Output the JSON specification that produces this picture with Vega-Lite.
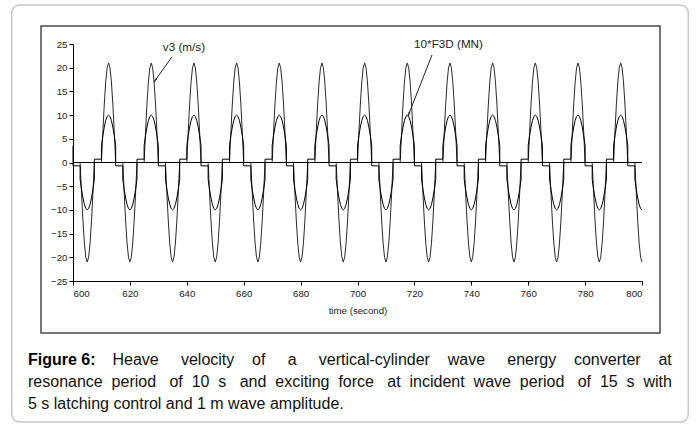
{
"$schema":"https://vega.github.io/schema/vega-lite/v6.json",
"width":569,"height":237,
"autosize":{"type":"none"},
"padding":{"left":73,"top":44,"right":54,"bottom":144},
"background":"white",
"config":{"view":{"stroke":null},"font":"Liberation Sans","axis":{"labelOverlap":false,"labelBound":false}},
"title":{
"text":"Figure 6:",
"subtitle":[
"\u200b\u00a0\u00a0\u00a0\u00a0\u00a0\u00a0\u00a0\u00a0\u00a0\u00a0\u00a0\u00a0\u00a0\u00a0\u00a0\u00a0\u00a0\u00a0\u00a0Heave\u00a0\u00a0\u00a0\u00a0\u00a0velocity\u00a0\u00a0\u00a0\u00a0of\u00a0\u00a0\u00a0\u00a0\u00a0a\u00a0\u00a0\u00a0\u00a0\u00a0vertical-cylinder\u00a0\u00a0\u00a0\u00a0wave\u00a0\u00a0\u00a0\u00a0\u00a0energy\u00a0\u00a0\u00a0\u00a0converter\u00a0\u00a0\u00a0\u00a0at",
"resonance\u00a0\u00a0period\u00a0\u00a0\u00a0of\u00a0\u00a010\u00a0\u00a0s\u00a0\u00a0\u00a0and\u00a0\u00a0exciting\u00a0\u00a0force\u00a0\u00a0\u00a0at\u00a0\u00a0incident\u00a0\u00a0wave\u00a0\u00a0period\u00a0\u00a0\u00a0of\u00a0\u00a015\u00a0\u00a0s\u00a0\u00a0with",
"5 s latching control and 1 m wave amplitude."],
"orient":"bottom","anchor":"start","frame":"group","dx":-45,"offset":-71,
"font":"Liberation Sans","fontSize":16,"fontWeight":"bold","color":"#000",
"subtitleFont":"Liberation Sans","subtitleFontSize":16,"subtitleFontWeight":"normal","subtitleColor":"#111","subtitleLineHeight":22,"subtitlePadding":-16
},
"datasets":{
"frame":[{}],
"notes":[{"label":"v3 (m/s)","t":639.0,"y":24.4},{"label":"10*F3D (MN)","t":732.0,"y":24.9}],
"arrows":[{"label":"v3","t":634.8,"y":22.3,"t2":628.5,"y2":17.0},{"label":"f","t":726.2,"y":22.7,"t2":717.75,"y2":9.8}],
"heads":[{"label":"v3","t":629.0,"y":17.4},{"label":"f","t":718.07,"y":10.3}],
"wave":[
{"t":600,"v":0,"f":3.55},{"t":600,"v":0,"f":-0.7},
{"t":602.5,"v":0,"f":-0.7},{"t":602.5,"v":0,"f":-3.55},{"t":603,"v":-6.49,"f":-5.68},{"t":603.5,"v":-12.34,"f":-7.49},{"t":604,"v":-16.99,"f":-8.85},{"t":604.5,"v":-19.97,"f":-9.71},{"t":605,"v":-21,"f":-10},{"t":605.5,"v":-19.97,"f":-9.71},{"t":606,"v":-16.99,"f":-8.85},{"t":606.5,"v":-12.34,"f":-7.49},{"t":607,"v":-6.49,"f":-5.68},{"t":607.5,"v":0,"f":-3.55},{"t":607.5,"v":0,"f":0.7},
{"t":610,"v":0,"f":0.7},{"t":610,"v":0,"f":3.55},{"t":610.5,"v":6.49,"f":5.68},{"t":611,"v":12.34,"f":7.49},{"t":611.5,"v":16.99,"f":8.85},{"t":612,"v":19.97,"f":9.71},{"t":612.5,"v":21,"f":10},{"t":613,"v":19.97,"f":9.71},{"t":613.5,"v":16.99,"f":8.85},{"t":614,"v":12.34,"f":7.49},{"t":614.5,"v":6.49,"f":5.68},{"t":615,"v":0,"f":3.55},{"t":615,"v":0,"f":-0.7},
{"t":617.5,"v":0,"f":-0.7},{"t":617.5,"v":0,"f":-3.55},{"t":618,"v":-6.49,"f":-5.68},{"t":618.5,"v":-12.34,"f":-7.49},{"t":619,"v":-16.99,"f":-8.85},{"t":619.5,"v":-19.97,"f":-9.71},{"t":620,"v":-21,"f":-10},{"t":620.5,"v":-19.97,"f":-9.71},{"t":621,"v":-16.99,"f":-8.85},{"t":621.5,"v":-12.34,"f":-7.49},{"t":622,"v":-6.49,"f":-5.68},{"t":622.5,"v":0,"f":-3.55},{"t":622.5,"v":0,"f":0.7},
{"t":625,"v":0,"f":0.7},{"t":625,"v":0,"f":3.55},{"t":625.5,"v":6.49,"f":5.68},{"t":626,"v":12.34,"f":7.49},{"t":626.5,"v":16.99,"f":8.85},{"t":627,"v":19.97,"f":9.71},{"t":627.5,"v":21,"f":10},{"t":628,"v":19.97,"f":9.71},{"t":628.5,"v":16.99,"f":8.85},{"t":629,"v":12.34,"f":7.49},{"t":629.5,"v":6.49,"f":5.68},{"t":630,"v":0,"f":3.55},{"t":630,"v":0,"f":-0.7},
{"t":632.5,"v":0,"f":-0.7},{"t":632.5,"v":0,"f":-3.55},{"t":633,"v":-6.49,"f":-5.68},{"t":633.5,"v":-12.34,"f":-7.49},{"t":634,"v":-16.99,"f":-8.85},{"t":634.5,"v":-19.97,"f":-9.71},{"t":635,"v":-21,"f":-10},{"t":635.5,"v":-19.97,"f":-9.71},{"t":636,"v":-16.99,"f":-8.85},{"t":636.5,"v":-12.34,"f":-7.49},{"t":637,"v":-6.49,"f":-5.68},{"t":637.5,"v":0,"f":-3.55},{"t":637.5,"v":0,"f":0.7},
{"t":640,"v":0,"f":0.7},{"t":640,"v":0,"f":3.55},{"t":640.5,"v":6.49,"f":5.68},{"t":641,"v":12.34,"f":7.49},{"t":641.5,"v":16.99,"f":8.85},{"t":642,"v":19.97,"f":9.71},{"t":642.5,"v":21,"f":10},{"t":643,"v":19.97,"f":9.71},{"t":643.5,"v":16.99,"f":8.85},{"t":644,"v":12.34,"f":7.49},{"t":644.5,"v":6.49,"f":5.68},{"t":645,"v":0,"f":3.55},{"t":645,"v":0,"f":-0.7},
{"t":647.5,"v":0,"f":-0.7},{"t":647.5,"v":0,"f":-3.55},{"t":648,"v":-6.49,"f":-5.68},{"t":648.5,"v":-12.34,"f":-7.49},{"t":649,"v":-16.99,"f":-8.85},{"t":649.5,"v":-19.97,"f":-9.71},{"t":650,"v":-21,"f":-10},{"t":650.5,"v":-19.97,"f":-9.71},{"t":651,"v":-16.99,"f":-8.85},{"t":651.5,"v":-12.34,"f":-7.49},{"t":652,"v":-6.49,"f":-5.68},{"t":652.5,"v":0,"f":-3.55},{"t":652.5,"v":0,"f":0.7},
{"t":655,"v":0,"f":0.7},{"t":655,"v":0,"f":3.55},{"t":655.5,"v":6.49,"f":5.68},{"t":656,"v":12.34,"f":7.49},{"t":656.5,"v":16.99,"f":8.85},{"t":657,"v":19.97,"f":9.71},{"t":657.5,"v":21,"f":10},{"t":658,"v":19.97,"f":9.71},{"t":658.5,"v":16.99,"f":8.85},{"t":659,"v":12.34,"f":7.49},{"t":659.5,"v":6.49,"f":5.68},{"t":660,"v":0,"f":3.55},{"t":660,"v":0,"f":-0.7},
{"t":662.5,"v":0,"f":-0.7},{"t":662.5,"v":0,"f":-3.55},{"t":663,"v":-6.49,"f":-5.68},{"t":663.5,"v":-12.34,"f":-7.49},{"t":664,"v":-16.99,"f":-8.85},{"t":664.5,"v":-19.97,"f":-9.71},{"t":665,"v":-21,"f":-10},{"t":665.5,"v":-19.97,"f":-9.71},{"t":666,"v":-16.99,"f":-8.85},{"t":666.5,"v":-12.34,"f":-7.49},{"t":667,"v":-6.49,"f":-5.68},{"t":667.5,"v":0,"f":-3.55},{"t":667.5,"v":0,"f":0.7},
{"t":670,"v":0,"f":0.7},{"t":670,"v":0,"f":3.55},{"t":670.5,"v":6.49,"f":5.68},{"t":671,"v":12.34,"f":7.49},{"t":671.5,"v":16.99,"f":8.85},{"t":672,"v":19.97,"f":9.71},{"t":672.5,"v":21,"f":10},{"t":673,"v":19.97,"f":9.71},{"t":673.5,"v":16.99,"f":8.85},{"t":674,"v":12.34,"f":7.49},{"t":674.5,"v":6.49,"f":5.68},{"t":675,"v":0,"f":3.55},{"t":675,"v":0,"f":-0.7},
{"t":677.5,"v":0,"f":-0.7},{"t":677.5,"v":0,"f":-3.55},{"t":678,"v":-6.49,"f":-5.68},{"t":678.5,"v":-12.34,"f":-7.49},{"t":679,"v":-16.99,"f":-8.85},{"t":679.5,"v":-19.97,"f":-9.71},{"t":680,"v":-21,"f":-10},{"t":680.5,"v":-19.97,"f":-9.71},{"t":681,"v":-16.99,"f":-8.85},{"t":681.5,"v":-12.34,"f":-7.49},{"t":682,"v":-6.49,"f":-5.68},{"t":682.5,"v":0,"f":-3.55},{"t":682.5,"v":0,"f":0.7},
{"t":685,"v":0,"f":0.7},{"t":685,"v":0,"f":3.55},{"t":685.5,"v":6.49,"f":5.68},{"t":686,"v":12.34,"f":7.49},{"t":686.5,"v":16.99,"f":8.85},{"t":687,"v":19.97,"f":9.71},{"t":687.5,"v":21,"f":10},{"t":688,"v":19.97,"f":9.71},{"t":688.5,"v":16.99,"f":8.85},{"t":689,"v":12.34,"f":7.49},{"t":689.5,"v":6.49,"f":5.68},{"t":690,"v":0,"f":3.55},{"t":690,"v":0,"f":-0.7},
{"t":692.5,"v":0,"f":-0.7},{"t":692.5,"v":0,"f":-3.55},{"t":693,"v":-6.49,"f":-5.68},{"t":693.5,"v":-12.34,"f":-7.49},{"t":694,"v":-16.99,"f":-8.85},{"t":694.5,"v":-19.97,"f":-9.71},{"t":695,"v":-21,"f":-10},{"t":695.5,"v":-19.97,"f":-9.71},{"t":696,"v":-16.99,"f":-8.85},{"t":696.5,"v":-12.34,"f":-7.49},{"t":697,"v":-6.49,"f":-5.68},{"t":697.5,"v":0,"f":-3.55},{"t":697.5,"v":0,"f":0.7},
{"t":700,"v":0,"f":0.7},{"t":700,"v":0,"f":3.55},{"t":700.5,"v":6.49,"f":5.68},{"t":701,"v":12.34,"f":7.49},{"t":701.5,"v":16.99,"f":8.85},{"t":702,"v":19.97,"f":9.71},{"t":702.5,"v":21,"f":10},{"t":703,"v":19.97,"f":9.71},{"t":703.5,"v":16.99,"f":8.85},{"t":704,"v":12.34,"f":7.49},{"t":704.5,"v":6.49,"f":5.68},{"t":705,"v":0,"f":3.55},{"t":705,"v":0,"f":-0.7},
{"t":707.5,"v":0,"f":-0.7},{"t":707.5,"v":0,"f":-3.55},{"t":708,"v":-6.49,"f":-5.68},{"t":708.5,"v":-12.34,"f":-7.49},{"t":709,"v":-16.99,"f":-8.85},{"t":709.5,"v":-19.97,"f":-9.71},{"t":710,"v":-21,"f":-10},{"t":710.5,"v":-19.97,"f":-9.71},{"t":711,"v":-16.99,"f":-8.85},{"t":711.5,"v":-12.34,"f":-7.49},{"t":712,"v":-6.49,"f":-5.68},{"t":712.5,"v":0,"f":-3.55},{"t":712.5,"v":0,"f":0.7},
{"t":715,"v":0,"f":0.7},{"t":715,"v":0,"f":3.55},{"t":715.5,"v":6.49,"f":5.68},{"t":716,"v":12.34,"f":7.49},{"t":716.5,"v":16.99,"f":8.85},{"t":717,"v":19.97,"f":9.71},{"t":717.5,"v":21,"f":10},{"t":718,"v":19.97,"f":9.71},{"t":718.5,"v":16.99,"f":8.85},{"t":719,"v":12.34,"f":7.49},{"t":719.5,"v":6.49,"f":5.68},{"t":720,"v":0,"f":3.55},{"t":720,"v":0,"f":-0.7},
{"t":722.5,"v":0,"f":-0.7},{"t":722.5,"v":0,"f":-3.55},{"t":723,"v":-6.49,"f":-5.68},{"t":723.5,"v":-12.34,"f":-7.49},{"t":724,"v":-16.99,"f":-8.85},{"t":724.5,"v":-19.97,"f":-9.71},{"t":725,"v":-21,"f":-10},{"t":725.5,"v":-19.97,"f":-9.71},{"t":726,"v":-16.99,"f":-8.85},{"t":726.5,"v":-12.34,"f":-7.49},{"t":727,"v":-6.49,"f":-5.68},{"t":727.5,"v":0,"f":-3.55},{"t":727.5,"v":0,"f":0.7},
{"t":730,"v":0,"f":0.7},{"t":730,"v":0,"f":3.55},{"t":730.5,"v":6.49,"f":5.68},{"t":731,"v":12.34,"f":7.49},{"t":731.5,"v":16.99,"f":8.85},{"t":732,"v":19.97,"f":9.71},{"t":732.5,"v":21,"f":10},{"t":733,"v":19.97,"f":9.71},{"t":733.5,"v":16.99,"f":8.85},{"t":734,"v":12.34,"f":7.49},{"t":734.5,"v":6.49,"f":5.68},{"t":735,"v":0,"f":3.55},{"t":735,"v":0,"f":-0.7},
{"t":737.5,"v":0,"f":-0.7},{"t":737.5,"v":0,"f":-3.55},{"t":738,"v":-6.49,"f":-5.68},{"t":738.5,"v":-12.34,"f":-7.49},{"t":739,"v":-16.99,"f":-8.85},{"t":739.5,"v":-19.97,"f":-9.71},{"t":740,"v":-21,"f":-10},{"t":740.5,"v":-19.97,"f":-9.71},{"t":741,"v":-16.99,"f":-8.85},{"t":741.5,"v":-12.34,"f":-7.49},{"t":742,"v":-6.49,"f":-5.68},{"t":742.5,"v":0,"f":-3.55},{"t":742.5,"v":0,"f":0.7},
{"t":745,"v":0,"f":0.7},{"t":745,"v":0,"f":3.55},{"t":745.5,"v":6.49,"f":5.68},{"t":746,"v":12.34,"f":7.49},{"t":746.5,"v":16.99,"f":8.85},{"t":747,"v":19.97,"f":9.71},{"t":747.5,"v":21,"f":10},{"t":748,"v":19.97,"f":9.71},{"t":748.5,"v":16.99,"f":8.85},{"t":749,"v":12.34,"f":7.49},{"t":749.5,"v":6.49,"f":5.68},{"t":750,"v":0,"f":3.55},{"t":750,"v":0,"f":-0.7},
{"t":752.5,"v":0,"f":-0.7},{"t":752.5,"v":0,"f":-3.55},{"t":753,"v":-6.49,"f":-5.68},{"t":753.5,"v":-12.34,"f":-7.49},{"t":754,"v":-16.99,"f":-8.85},{"t":754.5,"v":-19.97,"f":-9.71},{"t":755,"v":-21,"f":-10},{"t":755.5,"v":-19.97,"f":-9.71},{"t":756,"v":-16.99,"f":-8.85},{"t":756.5,"v":-12.34,"f":-7.49},{"t":757,"v":-6.49,"f":-5.68},{"t":757.5,"v":0,"f":-3.55},{"t":757.5,"v":0,"f":0.7},
{"t":760,"v":0,"f":0.7},{"t":760,"v":0,"f":3.55},{"t":760.5,"v":6.49,"f":5.68},{"t":761,"v":12.34,"f":7.49},{"t":761.5,"v":16.99,"f":8.85},{"t":762,"v":19.97,"f":9.71},{"t":762.5,"v":21,"f":10},{"t":763,"v":19.97,"f":9.71},{"t":763.5,"v":16.99,"f":8.85},{"t":764,"v":12.34,"f":7.49},{"t":764.5,"v":6.49,"f":5.68},{"t":765,"v":0,"f":3.55},{"t":765,"v":0,"f":-0.7},
{"t":767.5,"v":0,"f":-0.7},{"t":767.5,"v":0,"f":-3.55},{"t":768,"v":-6.49,"f":-5.68},{"t":768.5,"v":-12.34,"f":-7.49},{"t":769,"v":-16.99,"f":-8.85},{"t":769.5,"v":-19.97,"f":-9.71},{"t":770,"v":-21,"f":-10},{"t":770.5,"v":-19.97,"f":-9.71},{"t":771,"v":-16.99,"f":-8.85},{"t":771.5,"v":-12.34,"f":-7.49},{"t":772,"v":-6.49,"f":-5.68},{"t":772.5,"v":0,"f":-3.55},{"t":772.5,"v":0,"f":0.7},
{"t":775,"v":0,"f":0.7},{"t":775,"v":0,"f":3.55},{"t":775.5,"v":6.49,"f":5.68},{"t":776,"v":12.34,"f":7.49},{"t":776.5,"v":16.99,"f":8.85},{"t":777,"v":19.97,"f":9.71},{"t":777.5,"v":21,"f":10},{"t":778,"v":19.97,"f":9.71},{"t":778.5,"v":16.99,"f":8.85},{"t":779,"v":12.34,"f":7.49},{"t":779.5,"v":6.49,"f":5.68},{"t":780,"v":0,"f":3.55},{"t":780,"v":0,"f":-0.7},
{"t":782.5,"v":0,"f":-0.7},{"t":782.5,"v":0,"f":-3.55},{"t":783,"v":-6.49,"f":-5.68},{"t":783.5,"v":-12.34,"f":-7.49},{"t":784,"v":-16.99,"f":-8.85},{"t":784.5,"v":-19.97,"f":-9.71},{"t":785,"v":-21,"f":-10},{"t":785.5,"v":-19.97,"f":-9.71},{"t":786,"v":-16.99,"f":-8.85},{"t":786.5,"v":-12.34,"f":-7.49},{"t":787,"v":-6.49,"f":-5.68},{"t":787.5,"v":0,"f":-3.55},{"t":787.5,"v":0,"f":0.7},
{"t":790,"v":0,"f":0.7},{"t":790,"v":0,"f":3.55},{"t":790.5,"v":6.49,"f":5.68},{"t":791,"v":12.34,"f":7.49},{"t":791.5,"v":16.99,"f":8.85},{"t":792,"v":19.97,"f":9.71},{"t":792.5,"v":21,"f":10},{"t":793,"v":19.97,"f":9.71},{"t":793.5,"v":16.99,"f":8.85},{"t":794,"v":12.34,"f":7.49},{"t":794.5,"v":6.49,"f":5.68},{"t":795,"v":0,"f":3.55},{"t":795,"v":0,"f":-0.7},
{"t":797.5,"v":0,"f":-0.7},{"t":797.5,"v":0,"f":-3.55},{"t":798,"v":-6.49,"f":-5.68},{"t":798.5,"v":-12.34,"f":-7.49},{"t":799,"v":-16.99,"f":-8.85},{"t":799.5,"v":-19.97,"f":-9.71},{"t":800,"v":-21,"f":-10}
]
},
"layer":[
{"data":{"name":"frame"},
 "mark":{"type":"rect","filled":false,"stroke":"#c8c8c8","strokeWidth":1.5,"cornerRadius":8},
 "encoding":{"x":{"datum":578.45,"type":"quantitative","title":"time (second)"},"x2":{"datum":816.27},"y":{"datum":33.23,"type":"quantitative","title":null},"y2":{"datum":-54.75}}},
{"data":{"name":"frame"},
 "mark":{"type":"rect","filled":false,"stroke":"#4a4a4a","strokeWidth":1.5},
 "encoding":{"x":{"datum":588.75,"type":"quantitative","title":"time (second)"},"x2":{"datum":806.33},"y":{"datum":28.8,"type":"quantitative","title":null},"y2":{"datum":-35.97}}},
{"data":{"name":"wave"},
 "transform":[{"fold":["v","f"],"as":["series","val"]}],
 "mark":{"type":"line","strokeWidth":1,"interpolate":"linear"},
 "encoding":{
  "x":{"field":"t","type":"quantitative","title":"time (second)",
   "scale":{"domain":[600,800],"nice":false,"zero":false},
   "axis":{"values":[600,620,640,660,680,700,720,740,760,780,800],"grid":false,"labelOverlap":false,"domainColor":"#000","tickColor":"#000","tickSize":4,"labelFont":"Liberation Sans","labelFontSize":9.7,"labelColor":"#222","labelPadding":3,"titleFont":"Liberation Sans","titleFontSize":9.7,"titleFontWeight":"normal","titleColor":"#222","titlePadding":8}},
  "y":{"field":"val","type":"quantitative","title":null,
   "scale":{"domain":[-25,25],"nice":false,"zero":false},
   "axis":{"values":[-25,-20,-15,-10,-5,0,5,10,15,20,25],"tickCount":11,"grid":false,"labelOverlap":false,"domainColor":"#000","tickColor":"#000","tickSize":4,"labelFont":"Liberation Sans","labelFontSize":9.7,"labelColor":"#222","labelPadding":2}},
  "color":{"field":"series","type":"nominal","scale":{"domain":["v","f"],"range":["#2a2a2a","#000000"]},"legend":null},
  "order":{"value":null}}},
{"data":{"name":"frame"},
 "mark":{"type":"rule","color":"#000","strokeWidth":1},
 "encoding":{"y":{"datum":0,"type":"quantitative","title":null}}},
{"data":{"name":"arrows"},
 "mark":{"type":"rule","color":"#222","strokeWidth":1},
 "encoding":{"x":{"field":"t","type":"quantitative","title":"time (second)"},"x2":{"field":"t2"},"y":{"field":"y","type":"quantitative","title":null},"y2":{"field":"y2"}}},
{"data":{"name":"heads"},
 "transform":[{"filter":"datum.label === 'v3'"}],
 "mark":{"type":"point","shape":"wedge","filled":true,"color":"#222","size":45,"angle":216,"opacity":1},
 "encoding":{"x":{"field":"t","type":"quantitative","title":"time (second)"},"y":{"field":"y","type":"quantitative","title":null}}},
{"data":{"name":"heads"},
 "transform":[{"filter":"datum.label === 'f'"}],
 "mark":{"type":"point","shape":"wedge","filled":true,"color":"#222","size":45,"angle":201,"opacity":1},
 "encoding":{"x":{"field":"t","type":"quantitative","title":"time (second)"},"y":{"field":"y","type":"quantitative","title":null}}},
{"data":{"name":"notes"},
 "mark":{"type":"text","font":"Liberation Sans","fontSize":11.7,"color":"#222","align":"center","baseline":"middle"},
 "encoding":{"x":{"field":"t","type":"quantitative","title":"time (second)"},"y":{"field":"y","type":"quantitative","title":null},"text":{"field":"label"}}}
]
}
